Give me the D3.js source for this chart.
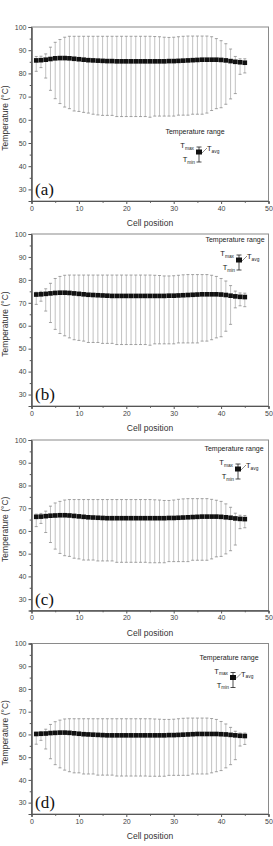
<!DOCTYPE html>
<html>
<head>
<meta charset="utf-8">
<script src="https://cdn.jsdelivr.net/npm/d3@7"></script>
<style>
  body { margin: 0; background: #fff; }
  svg { display: block; font-family: Arial, "Liberation Sans", sans-serif; }
</style>
</head>
<body>
<svg id="chart" width="273" height="846"></svg>
<script>
// cell positions along the stack
const cells = d3.range(1, 46);

const labels = ["(a)", "(b)", "(c)", "(d)"];
const xTicks = [0, 10, 20, 30, 40, 50];
const yTicks = [30, 40, 50, 60, 70, 80, 90, 100];

// (a)
const avgA = [85.6,85.7,85.9,86.2,86.5,86.6,86.6,86.5,86.3,86.1,85.9,85.7,85.6,85.5,85.4,85.3,85.3,85.2,85.2,85.2,85.2,85.2,85.2,85.2,85.2,85.2,85.2,85.2,85.3,85.3,85.4,85.5,85.6,85.7,85.8,85.9,85.9,85.9,85.9,85.8,85.6,85.3,85.0,84.8,84.6];
const maxA = [87.3,87.4,88.4,91.3,93.4,94.6,95.6,96.0,96.0,96.0,96.0,96.0,96.0,96.0,96.0,96.0,96.0,96.0,96.0,96.0,96.0,96.0,96.0,96.0,96.0,95.9,95.8,95.6,95.5,95.6,95.8,96.0,96.1,96.1,96.1,96.1,96.1,95.8,95.0,94.1,92.8,90.5,87.3,86.3,86.3];
const minA = [80.9,82.5,78.0,72.7,69.1,67.0,65.5,64.8,63.8,63.6,63.2,62.9,62.4,62.1,61.9,61.9,61.9,61.4,61.4,61.4,61.4,61.4,61.4,61.4,61.1,61.6,61.6,61.6,61.6,61.6,62.0,62.0,62.0,62.4,62.4,62.4,62.9,64.0,64.8,65.2,66.7,69.0,71.3,79.6,80.2];

// (b)
const avgB = [73.6,73.7,73.9,74.1,74.3,74.4,74.4,74.3,74.1,73.9,73.7,73.5,73.4,73.3,73.2,73.1,73.0,73.0,73.0,73.0,73.0,73.0,73.0,73.0,73.0,73.0,73.0,73.0,73.1,73.1,73.2,73.3,73.4,73.5,73.6,73.7,73.7,73.7,73.7,73.6,73.4,73.1,72.8,72.6,72.5];
const maxB = [74.6,75.0,76.1,78.5,80.6,81.5,82.0,82.1,82.1,82.1,82.1,82.1,82.1,82.1,82.1,82.1,82.1,82.1,82.1,82.1,82.1,82.1,82.1,82.1,82.1,82.0,81.9,81.7,81.7,81.8,82.0,82.2,82.3,82.3,82.3,82.3,82.3,82.0,81.5,80.6,79.5,77.5,75.1,74.3,74.2];
const minB = [69.3,70.7,66.4,61.4,58.4,56.6,55.6,54.7,53.9,53.6,53.3,52.7,52.7,52.7,52.3,52.3,52.3,51.8,51.8,51.8,51.8,51.8,51.8,51.8,51.5,52.1,52.1,52.1,52.1,52.1,52.5,52.5,52.5,52.5,52.5,53.3,53.3,53.9,54.7,55.2,57.6,60.6,67.8,68.7,68.3];

// (c)
const avgC = [66.2,66.3,66.5,66.7,66.8,66.9,66.9,66.8,66.6,66.4,66.2,66.0,65.9,65.8,65.7,65.6,65.6,65.6,65.6,65.6,65.6,65.6,65.6,65.6,65.6,65.6,65.6,65.6,65.7,65.7,65.8,65.9,66.0,66.1,66.2,66.3,66.3,66.3,66.3,66.2,66.0,65.8,65.5,65.3,65.2];
const maxC = [67.4,67.7,68.7,70.9,72.3,73.0,73.6,73.8,73.8,73.8,73.8,73.8,73.8,73.8,73.8,73.8,73.8,73.8,73.8,73.8,73.8,73.8,73.8,73.8,73.8,73.7,73.6,73.4,73.4,73.6,73.9,74.1,74.2,74.2,74.2,74.2,74.2,73.9,73.5,73.0,71.9,70.4,67.8,66.9,66.8];
const minC = [61.9,63.3,59.3,54.9,52.0,50.1,49.1,48.8,48.0,47.7,47.2,47.2,47.2,46.8,46.8,46.8,46.8,46.2,46.2,46.2,46.2,46.2,46.2,46.2,46.0,46.0,46.0,46.0,46.5,46.5,46.5,46.5,46.5,47.1,47.1,47.1,47.1,47.7,48.6,48.8,49.9,51.3,53.8,61.0,61.4];

// (d)
const avgD = [60.2,60.3,60.4,60.6,60.7,60.8,60.8,60.7,60.5,60.3,60.1,60.0,59.9,59.8,59.7,59.6,59.6,59.6,59.6,59.6,59.6,59.6,59.6,59.6,59.6,59.6,59.6,59.6,59.7,59.7,59.8,59.9,60.0,60.1,60.2,60.2,60.2,60.2,60.2,60.1,60.0,59.8,59.6,59.4,59.3];
const maxD = [61.0,61.3,62.3,64.4,65.6,66.3,66.8,66.9,66.9,66.9,66.9,66.9,66.9,66.9,66.9,66.9,66.9,66.9,66.9,66.9,66.9,66.9,66.9,66.9,66.9,66.8,66.7,66.6,66.6,66.7,66.9,67.1,67.2,67.2,67.2,67.2,67.2,67.0,66.6,65.7,64.6,63.1,61.4,60.6,60.6];
const minD = [55.7,57.4,53.6,49.3,46.7,45.3,44.3,43.6,43.1,43.1,42.6,42.6,42.6,42.1,42.1,42.1,42.1,41.7,41.7,41.7,41.7,41.7,41.7,41.7,41.6,41.6,41.6,41.6,42.0,42.0,42.0,42.0,42.0,42.6,42.6,42.6,42.6,43.1,43.6,44.1,45.3,46.7,48.9,54.9,55.6];

const series = [
    {avg: avgA, max: maxA, min: minA},
    {avg: avgB, max: maxB, min: minB},
    {avg: avgC, max: maxC, min: minC},
    {avg: avgD, max: maxD, min: minD}
];

// panel frames (pixel layout)
const left = 31.5, right = 268.5;
const tops = [27, 234, 440, 643.5];
const bottoms = [201, 406, 610.5, 814];
// legend anchor: title centre x, title baseline offset from top
const legendPos = [[195, 107], [235, 8], [234, 11], [229, 16]];

const svg = d3.select("#chart");

const x = d3.scaleLinear().domain([0, 50]).range([left, right]);

series.forEach(function(s, p) {
    const y = d3.scaleLinear().domain([25, 100]).range([bottoms[p], tops[p]]);
    const g = svg.append("g").attr("class", "panel");

    // frame top / right
    g.append("rect")
        .attr("x", left).attr("y", tops[p])
        .attr("width", right - left).attr("height", bottoms[p] - tops[p])
        .attr("fill", "none").attr("stroke", "#8a8a8a").attr("stroke-width", 1);

    // axes
    const yAxis = d3.axisLeft(y).tickValues(yTicks).tickSize(3).tickPadding(2);
    const yMinor = d3.axisLeft(y).tickValues(d3.range(25, 101, 5).filter(v => v % 10 != 0)).tickSize(1.8).tickFormat("");
    const xAxis = d3.axisBottom(x).tickValues(xTicks).tickSize(3).tickPadding(2);
    const xMinor = d3.axisBottom(x).tickValues([5, 15, 25, 35, 45]).tickSize(1.8).tickFormat("");

    g.append("g").attr("transform", `translate(${left},0)`).call(yAxis);
    g.append("g").attr("transform", `translate(${left},0)`).call(yMinor);
    g.append("g").attr("transform", `translate(0,${bottoms[p]})`).call(xAxis);
    g.append("g").attr("transform", `translate(0,${bottoms[p]})`).call(xMinor);

    g.selectAll(".domain").attr("stroke", "#555");
    g.selectAll(".tick line").attr("stroke", "#555");
    g.selectAll(".tick text").attr("fill", "#444").attr("font-size", 7);

    // axis titles
    g.append("text")
        .attr("x", (left + right) / 2)
        .attr("y", bottoms[p] + 25)
        .attr("text-anchor", "middle")
        .attr("font-size", 8.5)
        .attr("fill", "#333")
        .text("Cell position");
    g.append("text")
        .attr("transform", `translate(8,${(tops[p] + bottoms[p]) / 2 + 4}) rotate(-90)`)
        .attr("text-anchor", "middle")
        .attr("font-size", 8.5)
        .attr("fill", "#333")
        .text("Temperature (°C)");

    // error bars
    const bars = g.append("g").attr("class", "bars");
    bars.selectAll("line.stem")
        .data(cells)
        .join("line")
        .attr("class", "stem")
        .attr("x1", (d) => x(d)).attr("x2", (d) => x(d))
        .attr("y1", (d, i) => y(s.max[i])).attr("y2", (d, i) => y(s.min[i]))
        .attr("stroke", "#a8a8a8").attr("stroke-width", 0.7);
    bars.selectAll("line.capt")
        .data(cells)
        .join("line")
        .attr("class", "capt")
        .attr("x1", (d) => x(d) - 1.5).attr("x2", (d) => x(d) + 1.5)
        .attr("y1", (d, i) => y(s.max[i])).attr("y2", (d, i) => y(s.max[i]))
        .attr("stroke", "#8c8c8c").attr("stroke-width", 0.8);
    bars.selectAll("line.capb")
        .data(cells)
        .join("line")
        .attr("class", "capb")
        .attr("x1", (d) => x(d) - 1.5).attr("x2", (d) => x(d) + 1.5)
        .attr("y1", (d, i) => y(s.min[i])).attr("y2", (d, i) => y(s.min[i]))
        .attr("stroke", "#8c8c8c").attr("stroke-width", 0.8);

    // average markers
    g.append("g").selectAll("rect")
        .data(cells)
        .join("rect")
        .attr("x", (d) => x(d) - 2.3)
        .attr("y", (d, i) => y(s.avg[i]) - 2.3)
        .attr("width", 4.6).attr("height", 4.6)
        .attr("fill", "#111");

    // panel label
    g.append("text")
        .attr("x", left + 3.5)
        .attr("y", bottoms[p] - 6)
        .attr("font-family", "'Liberation Serif', 'DejaVu Serif', serif")
        .attr("font-size", 17)
        .attr("fill", "#111")
        .text(labels[p]);

    // legend
    const lx = legendPos[p][0], ly = tops[p] + legendPos[p][1];
    const lg = g.append("g").attr("class", "legend");
    lg.append("text")
        .attr("x", lx).attr("y", ly)
        .attr("text-anchor", "middle")
        .attr("font-size", 7).attr("fill", "#222")
        .text("Temperature range");
    const sx = lx + 4;
    lg.append("line").attr("x1", sx).attr("x2", sx).attr("y1", ly + 13).attr("y2", ly + 28)
        .attr("stroke", "#222").attr("stroke-width", 0.8);
    lg.append("line").attr("x1", sx - 2.5).attr("x2", sx + 2.5).attr("y1", ly + 13).attr("y2", ly + 13)
        .attr("stroke", "#222").attr("stroke-width", 0.8);
    lg.append("line").attr("x1", sx - 2.5).attr("x2", sx + 2.5).attr("y1", ly + 28).attr("y2", ly + 28)
        .attr("stroke", "#222").attr("stroke-width", 0.8);
    lg.append("rect").attr("x", sx - 3).attr("y", ly + 15.5).attr("width", 6).attr("height", 5)
        .attr("fill", "#111");
    lg.append("line").attr("x1", sx + 3).attr("y1", ly + 19).attr("x2", sx + 8).attr("y2", ly + 14)
        .attr("stroke", "#444").attr("stroke-width", 0.6);

    function tLabel(tx, ty, sub, anchor) {
        const t = lg.append("text")
            .attr("x", tx).attr("y", ty)
            .attr("text-anchor", anchor)
            .attr("font-size", 7.5).attr("fill", "#222");
        t.append("tspan").text("T");
        t.append("tspan").attr("font-size", 4.8).attr("dy", 1.5).text(sub);
    }
    tLabel(sx - 5, ly + 14, "max", "end");
    tLabel(sx - 4, ly + 28, "min", "end");
    tLabel(sx + 8, ly + 17, "avg", "start");
});
</script>
</body>
</html>
